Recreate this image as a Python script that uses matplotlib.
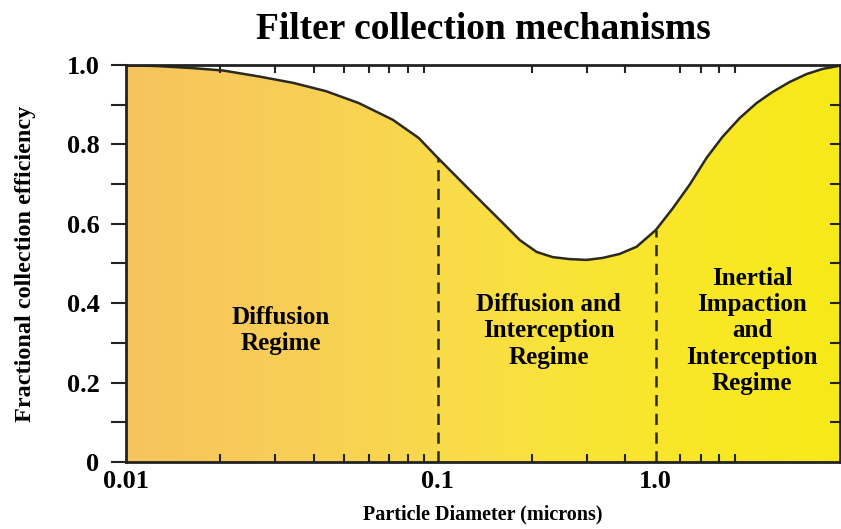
import numpy as np
import matplotlib
matplotlib.use('Agg')
import matplotlib.pyplot as plt
from matplotlib.colors import LinearSegmentedColormap
from matplotlib.ticker import FixedLocator, LogLocator, NullFormatter

# efficiency curve (diameter in microns, log axis)
diameter = [0.01, 0.0128, 0.0164, 0.0205, 0.0267, 0.0343, 0.0438, 0.0558,
            0.0717, 0.0869, 0.1, 0.1117, 0.1266, 0.1436, 0.1616, 0.1832,
            0.2076, 0.2337, 0.2649, 0.3003, 0.338, 0.383, 0.434, 0.5,
            0.566, 0.642, 0.728, 0.819, 0.929, 1.053, 1.185, 1.344, 1.523,
            1.714, 1.914, 1.95]
efficiency = [1.0, 0.997, 0.992, 0.986, 0.971, 0.955, 0.934, 0.904,
              0.862, 0.816, 0.766, 0.728, 0.685, 0.642, 0.602, 0.559,
              0.529, 0.516, 0.511, 0.509, 0.514, 0.524, 0.542, 0.584,
              0.638, 0.698, 0.766, 0.819, 0.866, 0.904, 0.932, 0.957, 0.977,
              0.990, 0.997, 1.0]

# regime boundaries (dashed lines)
boundaries = [0.1, 0.5]

# x tick labels as printed on the original
xtick_pos = [0.01, 0.1, 0.5]
xtick_labels = ['0.01', '0.1', '1.0']

regimes = ['Diffusion\nRegime',
           'Diffusion and\nInterception\nRegime',
           'Inertial\nImpaction\nand\nInterception\nRegime']
regime_x = [0.217, 0.592, 0.877]  # axes fraction

plt.rcParams['font.family'] = ['Liberation Serif', 'DejaVu Serif']
plt.rcParams['font.weight'] = 'bold'

fig = plt.figure(figsize=(8.41, 5.29), dpi=100)
ax = fig.add_axes([0.1498, 0.1267, 0.849, 0.7505])

xmin, xmax = 0.01, 1.95
ax.set_xscale('log')
ax.set_xlim(xmin, xmax)
ax.set_ylim(0, 1.0)

# horizontal gradient (in axes space) clipped to the area under the curve
cmap = LinearSegmentedColormap.from_list(
    'fill', [(0.0, '#f6c45e'), (0.25, '#f8cf56'), (0.44, '#f9da4a'),
             (0.60, '#fae33a'), (0.80, '#f9e726'), (1.0, '#f7ea18')])
grad = np.linspace(0, 1, 400).reshape(1, -1)
img = ax.imshow(grad, extent=[0, 1, 0, 1], aspect='auto', cmap=cmap,
                origin='lower', transform=ax.transAxes, zorder=1)
poly = ax.fill_between(diameter, efficiency, 0, facecolor='none',
                       edgecolor='none')
clip = poly.get_paths()[0]
img.set_clip_path(clip, transform=ax.transData)

ax.plot(diameter, efficiency, color='#2a2a1e', lw=1.8, zorder=3)

logd = np.log10(diameter)
for b in boundaries:
    top = np.interp(np.log10(b), logd, efficiency)
    ax.plot([b, b], [0, top], color='#2a2a1e', lw=1.8,
            linestyle=(0, (4.5, 3)), zorder=3)

for label, fx in zip(regimes, regime_x):
    ax.text(fx, 0.33, label, transform=ax.transAxes, ha='center',
            va='center', fontsize=18, fontweight='bold',
            linespacing=1.17, zorder=4)

for s in ax.spines.values():
    s.set_linewidth(2)
    s.set_color('#222222')
    s.set_zorder(5)

ax.xaxis.set_major_locator(FixedLocator(xtick_pos))
ax.set_xticklabels(xtick_labels)
ax.xaxis.set_minor_locator(LogLocator(base=10, subs=np.arange(2, 10)))
ax.xaxis.set_minor_formatter(NullFormatter())
ax.tick_params(axis='x', which='both', direction='in', top=True,
               length=6, width=1.5, color='#222222', labelsize=19, pad=6)
ax.tick_params(axis='x', which='major', length=0)

ax.set_yticks([0, 0.2, 0.4, 0.6, 0.8, 1.0])
ax.set_yticklabels(['0', '0.2', '0.4', '0.6', '0.8', '1.0'])
ax.set_yticks(np.arange(0.1, 1.0, 0.2), minor=True)
ax.tick_params(axis='y', which='both', direction='out', left=True,
               right=False, length=11, width=1.5, color='#222222',
               labelsize=19, pad=8)

# inward ticks on the right edge
rax = ax.twinx()
rax.set_ylim(0, 1.0)
rax.set_yticks(np.arange(0.1, 1.0, 0.1))
rax.tick_params(axis='y', direction='in', length=7, width=1.5,
                color='#222222', labelright=False)
for s in rax.spines.values():
    s.set_visible(False)

ax.set_xlabel('Particle Diameter (microns)', fontsize=14.5, fontweight='bold',
              labelpad=8)
ax.set_ylabel('Fractional collection efficiency', fontsize=17.5,
              fontweight='bold', labelpad=22)
ax.set_title('Filter collection mechanisms', fontsize=27, fontweight='bold',
             pad=19)

fig.savefig('out.png', dpi=100)
